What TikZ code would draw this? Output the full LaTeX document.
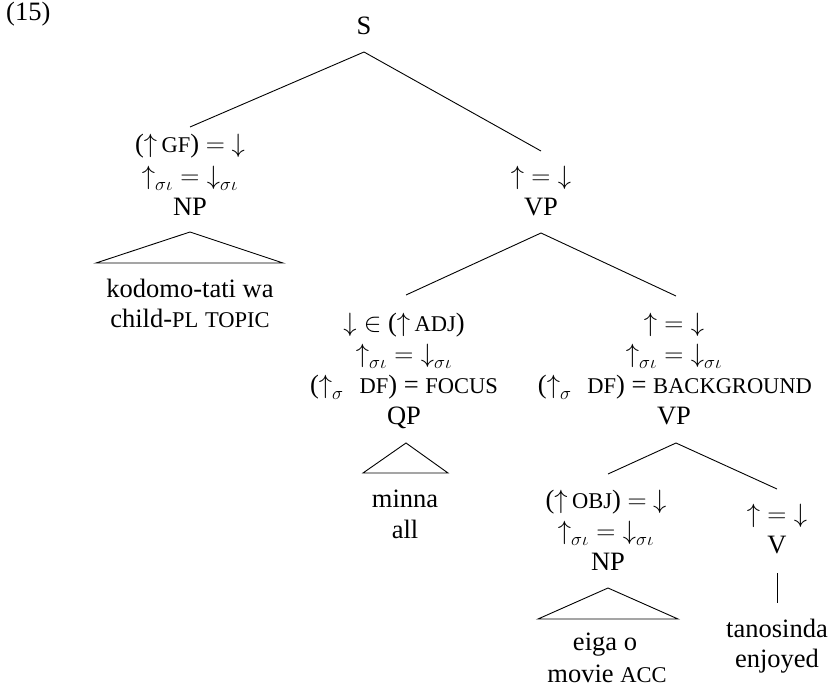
\RequirePackage{fix-cm}
\documentclass[tikz,border=0pt]{standalone}
\usepackage{fontspec}
\setmainfont{Liberation Serif}
\newcommand\mainsz{\fontsize{26.5}{31}\selectfont}
\newcommand\smc[1]{{\fontsize{22.5}{31}\selectfont #1}}
\newcommand\Upa{\mathord{\uparrow}}
\newcommand\Dna{\mathord{\downarrow}}
\newcommand\sigrow{$\Upa_{\sigma\iota} = \Dna_{\sigma\iota}$}
\newcommand\eqrow{$\Upa = \Dna$}
\newcommand\dfrow[1]{($\Upa_{\sigma}$\hspace{0.6em}\smc{DF}) = \smc{#1}}
\begin{document}
\begin{tikzpicture}[x=1pt,y=-1pt,
  every node/.style={font=\mainsz,inner sep=0pt,anchor=base},
  branch/.style={line width=0.9pt}]
\useasboundingbox (0,0) rectangle (828,693);
% example number
\node[anchor=base west] (ex) at (6,21) {(15)};
% S
\node (S) at (364,35) {S};
% left NP
\node (n1a) at (190,152) {($\Upa$\,\smc{GF}) $=$ $\Dna$};
\node (n1b) at (190,184) {\sigrow};
\node (n1)  at (190,215) {NP};
\node (l1a) at (190,297) {kodomo-tati wa};
\node (l1b) at (190,327) {child-\smc{PL} \smc{TOPIC}};
% top VP
\node (v1a) at (541,184) {\eqrow};
\node (v1)  at (541,215) {VP};
% QP
\node (q1) at (404,331) {$\Dna \in$ ($\Upa$\,\smc{ADJ})};
\node (q2) at (404,362) {\sigrow};
\node (q3) at (404,393) {\dfrow{FOCUS}};
\node (q)  at (404,424) {QP};
\node (m1) at (405,507) {minna};
\node (m2) at (405,538) {all};
% lower VP
\node (w1) at (674,331) {\eqrow};
\node (w2) at (674,362) {\sigrow};
\node (w3) at (675,393) {\dfrow{BACKGROUND}};
\node (w)  at (674,424) {VP};
% object NP
\node (p1) at (606,508) {($\Upa$\,\smc{OBJ}) $=$ $\Dna$};
\node (p2) at (606,539) {\sigrow};
\node (p)  at (608,570) {NP};
\node (e1) at (605,650) {eiga o};
\node (e2) at (607,682) {movie \smc{ACC}};
% V
\node (u1) at (777,522) {\eqrow};
\node (u)  at (777,553) {V};
\node (t1) at (777,637) {tanosinda};
\node (t2) at (777,667) {enjoyed};
% branches
\draw[branch] ([yshift=-17pt]S.base) -- ([yshift=25pt]n1a.base);
\draw[branch] ([yshift=-17pt]S.base) -- ([yshift=33pt]v1a.base);
\draw[branch] ([yshift=-18pt]v1.base) -- ([xshift=2pt,yshift=36pt]q1.base);
\draw[branch] ([yshift=-18pt]v1.base) -- ([xshift=2pt,yshift=35pt]w1.base);
\draw[branch] ([xshift=2pt,yshift=-19pt]w.base) -- ([xshift=2pt,yshift=34pt]p1.base);
\draw[branch] ([xshift=2pt,yshift=-19pt]w.base) -- ([yshift=33pt]u1.base);
\draw[branch] ([yshift=-20pt]u.base) -- ([yshift=34pt]t1.base);
% triangles
\draw[branch] ([yshift=-17pt]n1.base) -- ++(-94pt,-31pt) -- ++(187pt,0pt) -- cycle;
\draw[branch] ([xshift=2pt,yshift=-19pt]q.base) -- ++(-43pt,-30pt) -- ++(85pt,0pt) -- cycle;
\draw[branch] ([yshift=-18pt]p.base) -- ++(-70pt,-31pt) -- ++(140pt,0pt) -- cycle;
\end{tikzpicture}
\end{document}
